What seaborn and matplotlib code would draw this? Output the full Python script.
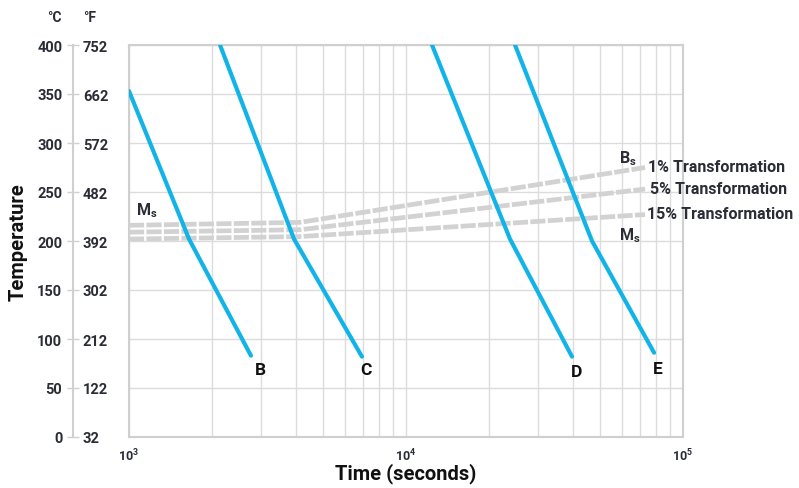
import numpy as np
import pandas as pd
import matplotlib
matplotlib.use("Agg")
import matplotlib.pyplot as plt
import seaborn as sns

# ---- data ----
curve_names = ["B", "C", "D", "E"]
curve_time = {
    "B": [1000, 1647, 2756],
    "C": [2131, 3942, 6934],
    "D": [12413, 23740, 39750],
    "E": [24750, 46940, 78620],
}
curve_temp = {
    "B": [353, 202, 83],
    "C": [400, 202, 82],
    "D": [400, 202, 82],
    "E": [400, 200, 86],
}
label_pos_time = [2972, 7172, 41430, 81230]
label_pos_temp = [69, 69, 67, 70]

trans_names = ["1% Transformation", "5% Transformation", "15% Transformation"]
trans_time = [1000, 4140, 72950]
trans_1 = [216, 219, 275]
trans_5 = [209, 211.5, 253]
trans_15 = [202, 204.5, 227]

c_ticks = [0, 50, 100, 150, 200, 250, 300, 350, 400]
f_ticks = [32, 122, 212, 302, 392, 482, 572, 662, 752]

sns.set_theme(style="white")
plt.rcParams['font.family'] = ['Roboto', 'DejaVu Sans']
TXT = '#2a2c36'
BLUE = '#12b3e8'
DASH = '#d2d2d2'
GRID = '#dcdcdc'

W, H = 799, 489
fig = plt.figure(figsize=(W / 100, H / 100), dpi=100)
ax = fig.add_axes([129 / W, (H - 438) / H, 554 / W, 392 / H])

# dashed transformation lines
tdf = pd.DataFrame({
    "time": trans_time * 3,
    "temp": trans_1 + trans_5 + trans_15,
    "name": sum([[n] * len(trans_time) for n in trans_names], []),
})
for n in trans_names:
    sub = tdf[tdf["name"] == n]
    sns.lineplot(data=sub, x="time", y="temp", ax=ax, color=DASH, lw=3.4,
                 estimator=None, sort=False, legend=False,
                 dashes=False, zorder=3).lines[-1].set_dashes((3.2, 0.5))

# cooling curves
rows = []
for n in curve_names:
    for t, v in zip(curve_time[n], curve_temp[n]):
        rows.append({"name": n, "time": t, "temp": v})
cdf = pd.DataFrame(rows)
sns.lineplot(data=cdf, x="time", y="temp", units="name", estimator=None,
             ax=ax, color=BLUE, lw=3.0, sort=False, legend=False, zorder=4)
for ln in ax.lines:
    ln.set_solid_capstyle('round')
    ln.set_solid_joinstyle('round')

for n, tx, ty in zip(curve_names, label_pos_time, label_pos_temp):
    ax.text(tx, ty, n, ha='center', va='center', fontsize=12.5,
            fontweight='bold', color='#111111')

# annotations
ax.text(1060, 232, r"M$_\mathregular{s}$", fontsize=11.5, fontweight='bold', color=TXT,
        ha='left', va='center')
ax.text(58500, 285, r"B$_\mathregular{s}$", fontsize=11.5, fontweight='bold', color=TXT,
        ha='left', va='center')
ax.text(58500, 206, r"M$_\mathregular{s}$", fontsize=11.5, fontweight='bold', color=TXT,
        ha='left', va='center')
for n, v, dx in zip(trans_names, [trans_1[-1], trans_5[-1], trans_15[-1]], [1.025, 1.04, 1.015]):
    ax.text(trans_time[-1] * dx, v + 1, n, fontsize=11.5, fontweight='bold', color=TXT,
            ha='left', va='center', clip_on=False)

# axes
ax.set_xscale('log')
ax.set_xlim(1000, 100000)
ax.set_ylim(0, 400)
ax.set_yticks(c_ticks)
ax.set_xticks([1000, 10000, 100000])
ax.set_xticklabels([r"10$^\mathregular{3}$", r"10$^\mathregular{4}$", r"10$^\mathregular{5}$"])
ax.xaxis.set_minor_locator(matplotlib.ticker.LogLocator(base=10, subs=np.arange(2, 10)))
ax.xaxis.set_minor_formatter(matplotlib.ticker.NullFormatter())
ax.grid(True, which='both', axis='x', color=GRID, lw=1.0)
ax.grid(True, which='major', axis='y', color=GRID, lw=1.0)
ax.tick_params(axis='y', left=False, labelleft=False)
ax.tick_params(axis='x', which='both', bottom=False, length=0, labelsize=9, pad=7,
               labelcolor=TXT)
for lab in ax.get_xticklabels():
    lab.set_fontweight('bold')
for s in ax.spines.values():
    s.set_color('#cfcfcf')
    s.set_linewidth(1.5)
ax.set_xlabel("Time (seconds)", fontsize=14.5, fontweight='bold', color='#111111')
ax.xaxis.label.set_va('center')
ax.xaxis.set_label_coords(0.5, -(474 - 438) / 392)
ax.set_ylabel("")

# temperature scale
sx = fig.add_axes([73 / W, (H - 438) / H, 0.0001, 392 / H], sharey=ax)
sx.set_xticks([])
for k in ['top', 'bottom', 'right']:
    sx.spines[k].set_visible(False)
sx.spines['left'].set_color('#d0d0d0')
sx.spines['left'].set_linewidth(1.5)
sx.set_yticks(c_ticks)
sx.tick_params(axis='y', left=True, length=4.3, width=1, color='#d0d0d0',
               labelsize=10.5, labelcolor=TXT, pad=3.4)
for lab in sx.get_yticklabels():
    lab.set_fontweight('bold')
sec = sx.secondary_yaxis('right', functions=(lambda c: c * 9 / 5 + 32, lambda f: (f - 32) * 5 / 9))
sec.set_yticks(f_ticks)
sec.spines['right'].set_visible(False)
sec.tick_params(axis='y', length=4.3, width=1, color='#d0d0d0', labelsize=10.5,
                labelcolor=TXT, pad=2.8)
for lab in sec.get_yticklabels():
    lab.set_fontweight('bold')

fig.text(62 / W, 1 - 18 / H, "°C", ha='right', va='center', fontsize=10, fontweight='bold', color=TXT)
fig.text(83 / W, 1 - 18 / H, "°F", ha='left', va='center', fontsize=10, fontweight='bold', color=TXT)
fig.text(18 / W, 1 - 242 / H, "Temperature", rotation=90, ha='center', va='center',
         fontsize=14.5, fontweight='bold', color='#111111')

fig.savefig("out.png", dpi=100)
